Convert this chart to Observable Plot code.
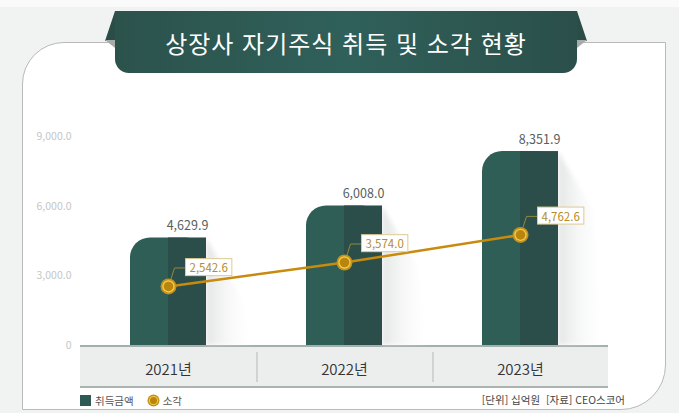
<!DOCTYPE html>
<html lang="ko">
<head>
<meta charset="utf-8">
<script src="https://cdn.jsdelivr.net/npm/d3@7"></script>
<script src="https://cdn.jsdelivr.net/npm/@observablehq/plot@0.6"></script>
<style>
  html, body { margin: 0; padding: 0; }
  body {
    width: 679px; height: 413px; overflow: hidden; position: relative;
    background: linear-gradient(#fafafa 0 7px, #f1f3f2 7px);
    font-family: "Noto Sans CJK KR", "Noto Sans", sans-serif;
  }
  .abs { position: absolute; }
  #card { left: 22px; top: 42px; width: 644px; height: 368px; box-sizing: border-box;
    background: #fff; border: 1px solid #b7bab9; border-radius: 42px 0 45px 0; z-index: 0; }
  #band { left: 80px; top: 345px; width: 528px; height: 43px; box-sizing: border-box;
    background: #eceeed; border-top: 2px solid #a3afaa; border-bottom: 2px solid #aab3af; z-index: 1; }
  .divider { top: 352px; width: 1.5px; height: 30px; background: #cfd4d2; z-index: 1; }
  #chart { left: 0; top: 0; z-index: 2; }
  #wing { left: 105px; top: 11px; width: 482px; height: 30px; background: #2b4d48; z-index: 3;
    clip-path: polygon(10px 0, 472px 0, 482px 100%, 0 100%); }
  .fold { top: 40px; width: 10px; height: 8px; background: #a9aaaa; z-index: 3; }
  #foldL { left: 105px; clip-path: polygon(0 0, 100% 0, 100% 100%); }
  #foldR { left: 577px; clip-path: polygon(0 0, 100% 0, 0 100%); }
  #banner { left: 115px; top: 11px; width: 462px; height: 62px; z-index: 4;
    background: linear-gradient(90deg, #2c524c, #30605a 50%, #2b4f4a);
    border-radius: 0 0 14px 14px; display: flex; align-items: center; justify-content: center;
    color: #fff; font-size: 24px; font-weight: 400; letter-spacing: 1px; padding-top: 1px; box-sizing: border-box; }
  #legend { left: 80px; top: 392px; height: 16px; display: flex; align-items: center; z-index: 3;
    font-size: 10.5px; color: #555; }
  #legend .sq { width: 11px; height: 11px; background: #2e5a53; margin-right: 4px; }
  #legend svg { margin-left: 13px; margin-right: 3px; }
  #source { right: 54px; top: 392px; height: 16px; line-height: 16px; z-index: 3;
    font-size: 10.5px; color: #444; white-space: pre; }
</style>
</head>
<body>
<div id="card" class="abs"></div>
<div id="band" class="abs"></div>
<div class="abs divider" style="left:256px"></div>
<div class="abs divider" style="left:432px"></div>
<div id="chart" class="abs"></div>
<div id="wing" class="abs"></div>
<div id="foldL" class="abs fold"></div>
<div id="foldR" class="abs fold"></div>
<div id="banner" class="abs">상장사 자기주식 취득 및 소각 현황</div>
<div id="legend" class="abs">
  <div class="sq"></div><span>취득금액</span>
  <svg width="13" height="13" viewBox="0 0 13 13"><circle cx="6.5" cy="6.5" r="6" fill="#c4921a"/><circle cx="6.5" cy="6.5" r="4.6" fill="#f0c850"/><circle cx="6.5" cy="6.5" r="3.5" fill="#b8860b"/></svg><span>소각</span>
</div>
<div id="source" class="abs">[단위] 십억원  [자료] CEO스코어</div>
<script>
// ---- data ----
const years = ["2021", "2022", "2023"];
const acquisition = [4629.9, 6008.0, 8351.9];   // 취득금액
const retirement = [2542.6, 3574.0, 4762.6];    // 소각
const yTicks = [0, 3000, 6000, 9000];

const acqData = years.map((year, i) => ({year, value: acquisition[i]}));
const retData = years.map((year, i) => ({year, value: retirement[i]}));

const fmt = d3.format(",.1f");
const font = "'Noto Sans CJK KR', 'Noto Sans', sans-serif";

const plot = Plot.plot({
  width: 679,
  height: 413,
  marginTop: 136,
  marginBottom: 68,
  marginLeft: 80,
  marginRight: 71,
  style: {background: "transparent", fontFamily: font, overflow: "visible"},
  x: {domain: years, paddingInner: 0.568, paddingOuter: 0.284},
  y: {domain: [0, 9000]},
  marks: [
    Plot.axisY({ticks: yTicks, tickFormat: d => d === 0 ? "0" : fmt(d), tickSize: 0, tickPadding: 9,
      fontSize: 10.5, fill: "#c3c7c5", label: null}),
    Plot.axisX({tickFormat: d => d + "년", tickSize: 0, tickPadding: 19, fontSize: 15,
      fontWeight: 350, fill: "#333", label: null}),
    // lighter full bar with rounded corners
    Plot.barY(acqData, {x: "year", y: "value", fill: "#2f5e56", rx: 20, className: "bar-light"}),
    // square off bottom corners
    Plot.barY(acqData, {x: "year", y1: 0, y2: d => d.value / 2, fill: "#2f5e56"}),
    // darker right half
    Plot.barY(acqData, {x: "year", y: "value", fill: "#2c4e4a", insetLeft: 38}),
    // bar value labels
    Plot.text(acqData, {x: "year", y: "value", text: d => fmt(d.value), dx: 19, dy: -12,
      fontSize: 12.5, fill: "#56605c"}),
    // retirement line
    Plot.line(retData, {x: "year", y: "value", stroke: "#c98b0c", strokeWidth: 2.5}),
    Plot.dot(retData, {x: "year", y: "value", r: 8, fill: "#c4921a", className: "pt-dot"}),
    Plot.dot(retData, {x: "year", y: "value", r: 6.2, fill: "#f0c850"}),
    Plot.dot(retData, {x: "year", y: "value", r: 4.8, fill: "#b8860b"}),
    Plot.text(retData, {x: "year", y: "value", text: d => fmt(d.value), dx: 21, dy: -18,
      textAnchor: "start", fontSize: 11.5, fill: "#b48d2c", className: "pt-label"})
  ]
});

document.getElementById("chart").append(plot);

// ---- decorations positioned from the Plot scales ----
const ns = "http://www.w3.org/2000/svg";
const xs = plot.scale("x"), ys = plot.scale("y");
const bw = xs.bandwidth;
const el = (tag, attrs) => { const e = document.createElementNS(ns, tag); for (const k in attrs) e.setAttribute(k, attrs[k]); return e; };

// cast shadows to the right of bars
const defs = el("defs", {});
const lg = el("linearGradient", {id: "shadowGrad", x1: 0, x2: 1, y1: 0, y2: 0});
lg.append(el("stop", {offset: 0, "stop-color": "#d8dbda", "stop-opacity": 0.7}));
lg.append(el("stop", {offset: 1, "stop-color": "#ffffff", "stop-opacity": 0}));
defs.append(lg);
const flt = el("filter", {id: "blur", x: "-20%", y: "-20%", width: "140%", height: "140%"});
flt.append(el("feGaussianBlur", {stdDeviation: 2}));
defs.append(flt);
plot.insertBefore(defs, plot.firstChild);
const gShadow = el("g", {filter: "url(#blur)"});
years.forEach((yr, i) => {
  const xr = xs.apply(yr) + bw, yt = ys.apply(acquisition[i]), yb = ys.apply(0);
  gShadow.append(el("path", {d: `M${xr},${yt} L${xr + 34},${yt + 58} L${xr + 50},${yb} L${xr},${yb} Z`, fill: "url(#shadowGrad)"}));
});
const firstBar = plot.querySelector(".bar-light") || plot.querySelectorAll('g[aria-label="bar"]')[0];
if (firstBar) firstBar.parentNode.insertBefore(gShadow, firstBar);

// leader lines for retirement labels
const gLead = el("g", {fill: "none", stroke: "#8f8a3e", "stroke-width": 1});
years.forEach((yr, i) => {
  const cx = xs.apply(yr) + bw / 2, cy = ys.apply(retirement[i]);
  gLead.append(el("polyline", {points: `${cx + 3},${cy - 7} ${cx + 6.5},${cy - 18} ${cx + 17},${cy - 18}`}));
});
const dotG = plot.querySelector(".pt-dot") || plot.querySelectorAll('g[aria-label="dot"]')[0];
if (dotG) dotG.parentNode.insertBefore(gLead, dotG);

// boxes behind retirement labels
const labelG = plot.querySelector(".pt-label") || [...plot.querySelectorAll('g[aria-label="text"]')].pop();
if (labelG) labelG.querySelectorAll("text").forEach(t => {
  const b = t.getBBox();
  const r = el("rect", {x: b.x - 4, y: b.y - 0.5, width: b.width + 8, height: b.height + 1,
    fill: "#fff", stroke: "#dccb95", "stroke-width": 1});
  const tr = t.getAttribute("transform");
  if (tr) r.setAttribute("transform", tr);
  t.parentNode.insertBefore(r, t);
});
</script>
</body>
</html>
